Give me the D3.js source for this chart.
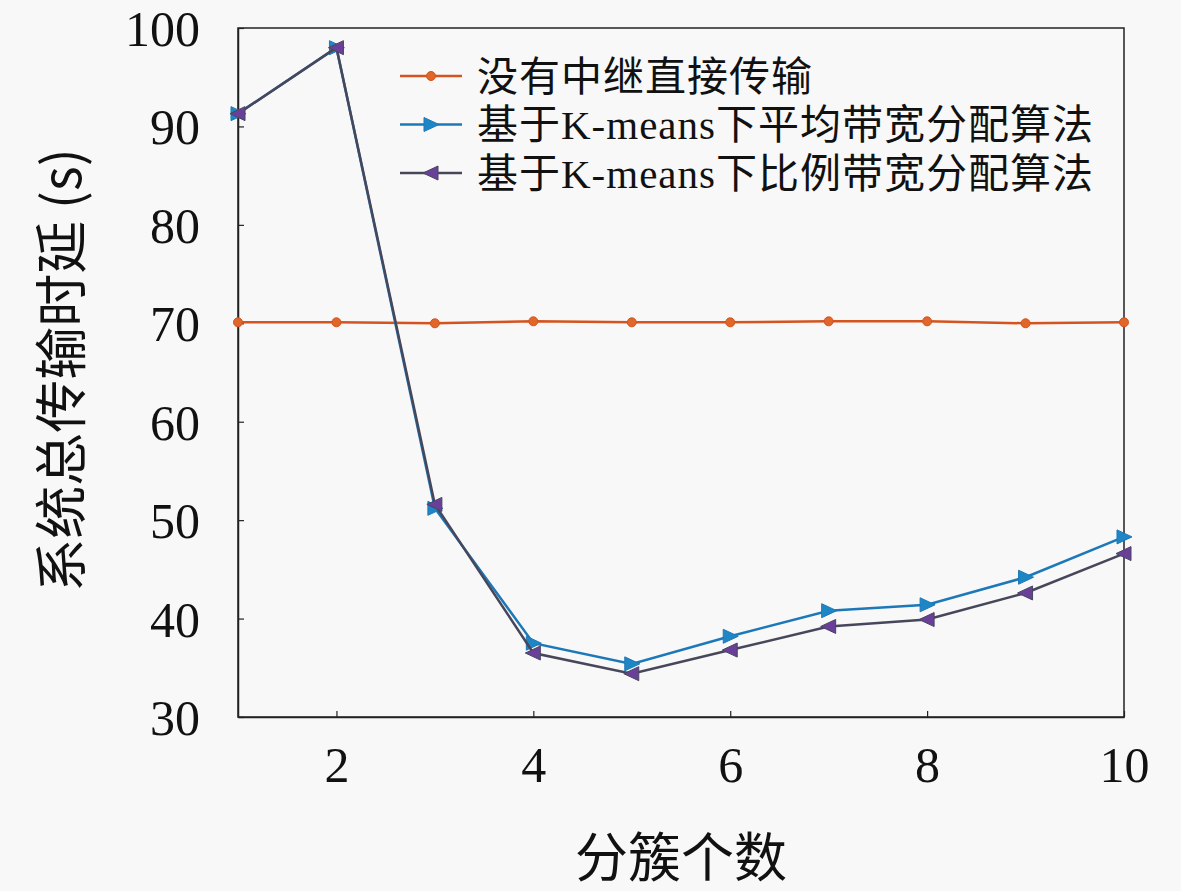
<!DOCTYPE html>
<html>
<head>
<meta charset="utf-8">
<script src="https://cdn.jsdelivr.net/npm/d3@7"></script>
<style>
  body { margin: 0; background: #f8f8f8; }
  svg { display: block; }
  .tick text { font-family: "Liberation Serif", "DejaVu Serif", serif; }
</style>
</head>
<body>
<svg id="chart" width="1181" height="891"></svg>
<script>
"use strict";

// Cluster counts along the x axis
const clusters = [1, 2, 3, 4, 5, 6, 7, 8, 9, 10];

// Total transmission delay (s) per scheme
const directDelay = [70.1, 70.1, 70.0, 70.2, 70.1, 70.1, 70.2, 70.2, 70.0, 70.1];
const averageDelay = [91.3, 98.0, 51.2, 37.5, 35.4, 38.2, 40.8, 41.4, 44.2, 48.3];
const proportionalDelay = [91.3, 98.0, 51.6, 36.5, 34.4, 36.8, 39.2, 39.9, 42.6, 46.6];

const seriesNames = ["没有中继直接传输", "基于K-means下平均带宽分配算法", "基于K-means下比例带宽分配算法"];
const xTicks = [2, 4, 6, 8, 10];
const yTicks = [30, 40, 50, 60, 70, 80, 90, 100];

const series = [
  { name: seriesNames[0], values: directDelay, line: "#d4531e", marker: "circle", fill: "#e0662a" },
  { name: seriesNames[1], values: averageDelay, line: "#1c78b8", marker: "right", fill: "#1f86c6" },
  { name: seriesNames[2], values: proportionalDelay, line: "#47475c", marker: "left", fill: "#6a3f9a" }
];

const svg = d3.select("#chart");
const margin = { left: 238, right: 1124, top: 28, bottom: 717 };

const x = d3.scaleLinear().domain([1, 10]).range([margin.left, margin.right]);
const y = d3.scaleLinear().domain([30, 100]).range([margin.bottom, margin.top]);

// Frame
svg.append("rect")
  .attr("x", margin.left).attr("y", margin.top)
  .attr("width", margin.right - margin.left)
  .attr("height", margin.bottom - margin.top)
  .attr("fill", "none").attr("stroke", "#222").attr("stroke-width", 1.5);

// Axes with inward ticks
let xAxis = svg.append("g")
  .attr("transform", `translate(0,${margin.bottom})`)
  .call(d3.axisBottom(x).tickValues(xTicks).tickSizeInner(-6).tickSizeOuter(0).tickPadding(50));
let yAxis = svg.append("g")
  .attr("transform", `translate(${margin.left},0)`)
  .call(d3.axisLeft(y).tickValues(yTicks).tickSizeInner(-6).tickSizeOuter(0).tickPadding(38));

[xAxis, yAxis].forEach(a => {
  a.select(".domain").attr("stroke", "#222").attr("stroke-width", 1.5);
  a.selectAll(".tick line").attr("stroke", "#222").attr("stroke-width", 1.2);
  a.selectAll(".tick text").attr("fill", "#111").style("font-size", "50px");
});
xAxis.selectAll(".tick text").attr("dy", "0.3em");
yAxis.selectAll(".tick text").attr("dy", "0.35em");

// Axis titles
svg.append("text")
  .attr("x", 681).attr("y", 877)
  .attr("text-anchor", "middle")
  .style("font-family", "'Noto Sans CJK SC', sans-serif")
  .style("font-size", "53px").attr("fill", "#111")
  .text("分簇个数");

svg.append("text")
  .attr("transform", "translate(81,370) rotate(-90)")
  .attr("text-anchor", "middle")
  .style("font-family", "'Noto Sans CJK SC', sans-serif")
  .style("font-size", "53px").attr("fill", "#111")
  .text("系统总传输时延 (s)");

// Marker drawing
let drawMarker = (sel, kind, fill, stroke) => {
  if (kind === "circle") {
    sel.append("circle").attr("r", 4.5).attr("fill", fill).attr("stroke", stroke).attr("stroke-width", 1);
  } else {
    let pts = kind === "right" ? "-7,-7 8,0 -7,7" : "7,-7 -8,0 7,7";
    sel.append("polygon").attr("points", pts).attr("fill", fill).attr("stroke", stroke).attr("stroke-width", 1);
  }
};

const line = d3.line().x((d, i) => x(clusters[i])).y(d => y(d));

series.forEach(s => {
  svg.append("path")
    .datum(s.values)
    .attr("fill", "none")
    .attr("stroke", s.line)
    .attr("stroke-width", 2.5)
    .attr("d", line);

  svg.selectAll(null)
    .data(s.values)
    .enter()
    .append("g")
    .attr("transform", (d, i) => `translate(${x(clusters[i])},${y(d)})`)
    .each(function() { drawMarker(d3.select(this), s.marker, s.fill, s.line); });
});

// Legend
let legend = svg.append("g").attr("transform", "translate(400,76)");
series.forEach((s, i) => {
  let row = legend.append("g").attr("transform", `translate(0,${i * 48.5})`);
  row.append("line").attr("x1", 0).attr("x2", 62).attr("y1", 0).attr("y2", 0)
    .attr("stroke", s.line).attr("stroke-width", 2.5);
  drawMarker(row.append("g").attr("transform", "translate(31,0)"), s.marker, s.fill, s.line);
  row.append("text")
    .attr("x", 77).attr("y", 0).attr("dy", "0.36em")
    .style("font-family", "'Liberation Serif', 'Noto Sans CJK SC', serif")
    .style("font-size", "41px").style("letter-spacing", "1px").attr("fill", "#111")
    .text(s.name);
});
</script>
</body>
</html>
